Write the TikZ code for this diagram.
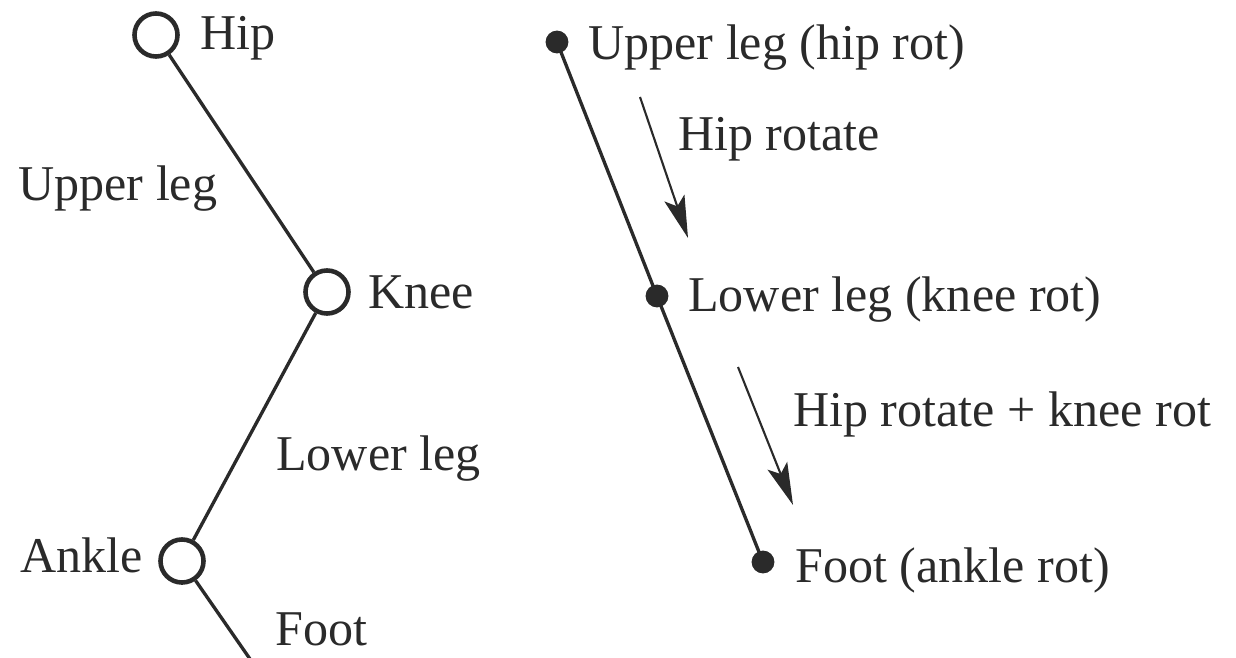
\documentclass[tikz,border=0pt]{standalone}
\usepackage{fontspec}
\setmainfont{Liberation Serif}
\usepackage{tikz}
\usetikzlibrary{arrows.meta,positioning}
\definecolor{Ink}{HTML}{2A2A2A}
\tikzset{
  joint/.style={circle,draw=Ink,line width=2.6pt,fill=white,minimum size=24.5pt,inner sep=0pt},
  dot/.style={circle,fill=Ink,minimum size=13pt,inner sep=0pt},
  bone/.style={draw=Ink,line width=1.9pt},
  lbl/.style={anchor=base west,inner sep=0pt,text=Ink,font=\fontsize{28.5}{34}\selectfont},
  rotArrow/.style={-{Stealth[length=24pt,width=12pt,inset=5pt]},line width=1.2pt,draw=Ink}
}
\begin{document}
\begin{tikzpicture}[x=0.02cm,y=0.02cm]
  \useasboundingbox (0,0) rectangle (1236,657);
  % left: joints
  \node[joint] (hip) at (156,622) {};
  \node[joint] (knee) at (327,365) {};
  \node[joint] (ankle) at (182,96) {};
  \coordinate (footend) at (250,-2);
  \draw[bone] (hip) -- (knee);
  \draw[bone] (knee) -- (ankle);
  \draw[bone] (ankle) -- (footend);
  \node[lbl] (hipL) at (200,607) {Hip};
  \node[lbl] (upperL) at (18,457) {Upper leg};
  \node[lbl] (kneeL) at (368,349) {Knee};
  \node[lbl] (lowerL) at (276,187) {Lower leg};
  \node[lbl] (ankleL) at (20,85) {Ankle};
  \node[lbl] (footL) at (275,12) {Foot};

  % right: segments
  \node[dot] (upperR) at (557,615) {};
  \node[dot] (lowerR) at (657,361) {};
  \node[dot] (footR) at (763,95) {};
  \draw[bone] (upperR.center) -- (lowerR.center) -- (footR.center);
  \node[lbl] (upperRL) at (588,597) {Upper leg (hip rot)};
  \node[lbl] (lowerRL) at (688,346) {Lower leg (knee rot)};
  \node[lbl] (footRL) at (795,75) {Foot (ankle rot)};
  \node[lbl] (rot1L) at (678,507) {Hip rotate};
  \node[lbl] (rot2L) at (793,231) {Hip rotate + knee rot};
  \coordinate (r1s) at (640,560);
  \coordinate (r1e) at (688,419);
  \coordinate (r2s) at (738,290);
  \coordinate (r2e) at (793,152);
  \draw[rotArrow] (r1s) -- (r1e);
  \draw[rotArrow] (r2s) -- (r2e);
\end{tikzpicture}
\end{document}
